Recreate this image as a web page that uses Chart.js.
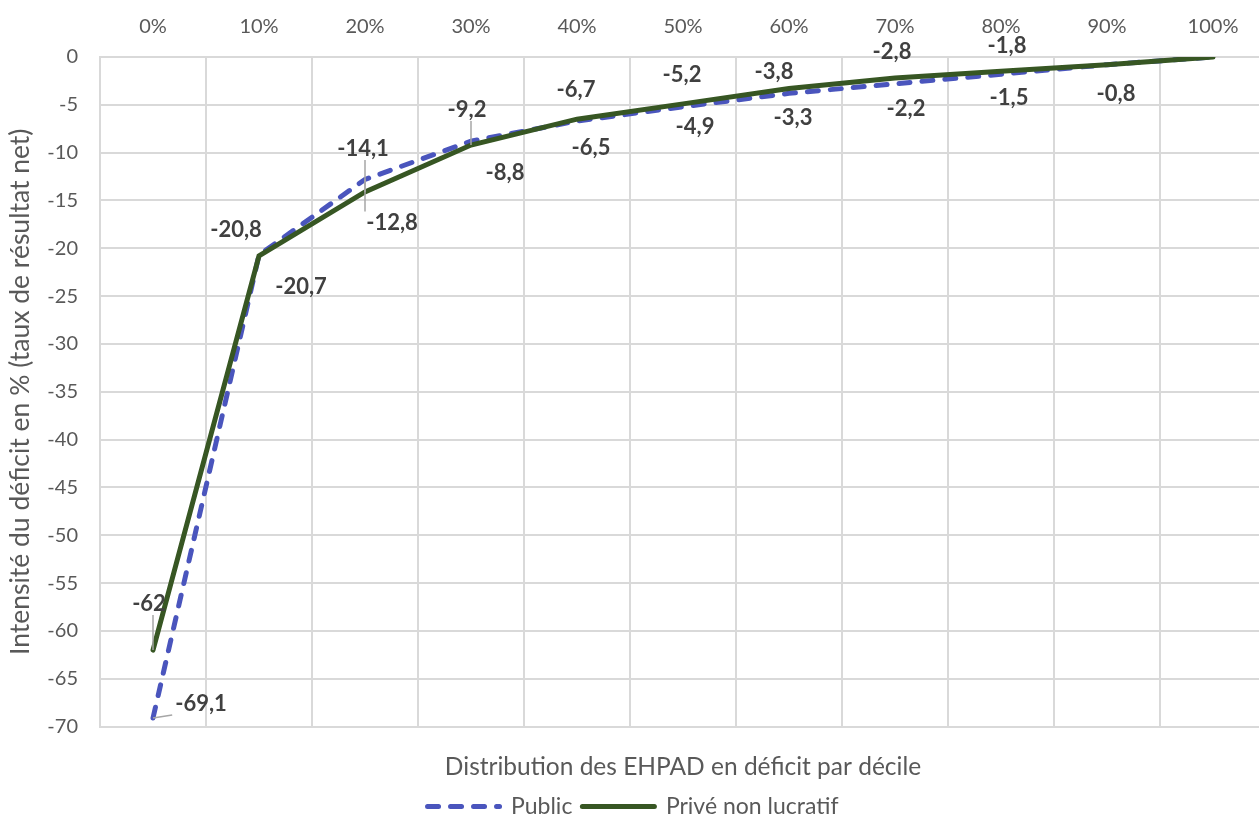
<!DOCTYPE html>
<html lang="fr">
<head>
<meta charset="utf-8">
<title>Intensité du déficit des EHPAD</title>
<script src="https://cdn.jsdelivr.net/npm/chart.js@4.4.1/dist/chart.umd.min.js"></script>
<style>
  html, body { margin: 0; padding: 0; background: #fff; overflow: hidden; }
  #wrap { width: 1267px; height: 820px; position: relative; }
</style>
</head>
<body>
<div id="wrap"><canvas id="chart"></canvas></div>
<script>
const categories = ["0%", "10%", "20%", "30%", "40%", "50%", "60%", "70%", "80%", "90%", "100%"];
const publicValues = [-69.1, -20.7, -12.8, -8.8, -6.7, -5.2, -3.8, -2.8, -1.8, -0.8, 0];
const priveValues = [-62, -20.8, -14.1, -9.2, -6.5, -4.9, -3.3, -2.2, -1.5, -0.8, 0];
const yMin = -70;
const yMax = 0;
const yStep = 5;

// placement des étiquettes (décalage par rapport au point), null = pas d'étiquette
const publicLabelOffsets = [[48, -14], [42, 32], [27, 43], [34, 32], [-1, -31], [-1, -32], [-15, -21], [-3, -32], [6, -28], null, null];
const priveLabelOffsets = [[-4, -46], [-23, -26], [-2, -43], [-4, -35], [14, 29], [12, 23], [4, 29], [11, 31], [8, 27], [9, 29], null];
const publicLeaders = [0, 2];
const priveLeaders = [0, 2, 3];

const FONT = "Lato, 'Open Sans', sans-serif";
const GREY = "#595959";

function formatValue(v) {
  return String(v).replace(".", ",");
}

const dataLabels = {
  id: "dataLabels",
  afterDatasetsDraw(chart) {
    const ctx = chart.ctx;
    const offsets = [publicLabelOffsets, priveLabelOffsets];
    const leaders = [publicLeaders, priveLeaders];
    ctx.save();
    ctx.font = "bold 22px " + FONT;
    ctx.textAlign = "center";
    ctx.textBaseline = "middle";
    chart.data.datasets.forEach((ds, i) => {
      const meta = chart.getDatasetMeta(i);
      meta.data.forEach((pt, j) => {
        const off = offsets[i][j];
        if (!off) return;
        const text = formatValue(ds.data[j]);
        const lx = pt.x + off[0];
        const ly = pt.y + off[1];
        if (leaders[i].includes(j)) {
          const w = ctx.measureText(text).width;
          const left = lx - w / 2 - 3, right = lx + w / 2 + 3;
          const top = ly - 11, bottom = ly + 11;
          const ex = Math.min(Math.max(pt.x, left), right);
          const ey = Math.min(Math.max(pt.y, top), bottom);
          ctx.strokeStyle = "#a6a6a6";
          ctx.lineWidth = 1.5;
          ctx.beginPath();
          ctx.moveTo(pt.x, pt.y);
          ctx.lineTo(ex, ey);
          ctx.stroke();
        }
        ctx.fillStyle = "#404040";
        ctx.fillText(text, lx, ly);
      });
    });
    ctx.restore();
  },
};

Chart.defaults.font.family = FONT;

const ctx = document.getElementById("chart").getContext("2d");
const chart = new Chart(ctx, {
  type: "line",
  data: {
    labels: categories,
    datasets: [
      {
        label: "Public",
        data: publicValues,
        borderColor: "#4a55bd",
        backgroundColor: "#4a55bd",
        borderWidth: 5,
        borderDash: [11, 12],
        borderCapStyle: "round",
        pointRadius: 0,
        tension: 0,
        order: 2,
      },
      {
        label: "Privé non lucratif",
        data: priveValues,
        borderColor: "#375623",
        backgroundColor: "#375623",
        borderWidth: 5,
        borderCapStyle: "round",
        pointRadius: 0,
        tension: 0,
        order: 1,
      },
    ],
  },
  options: {
    responsive: true,
    maintainAspectRatio: false,
    animation: false,
    layout: { padding: { top: 0, right: 1, bottom: -8, left: 0 } },
    plugins: {
      tooltip: { enabled: false },
      title: {
        display: true,
        position: "bottom",
        weight: 500,
        fullSize: false,
        text: "Distribution des EHPAD en déficit par décile",
        color: GREY,
        font: { size: 24.5, weight: "normal", family: FONT },
        padding: { top: 26, bottom: 3 },
      },
      legend: {
        display: true,
        position: "bottom",
        labels: {
          usePointStyle: true,
          pointStyle: "line",
          pointStyleWidth: 72,
          color: GREY,
          font: { size: 23, family: FONT },
          padding: 10,
          sort: (a, b) => a.datasetIndex - b.datasetIndex,
          generateLabels(chart) {
            const items = Chart.defaults.plugins.legend.labels.generateLabels(chart);
            items.forEach((item) => {
              const ds = chart.data.datasets[item.datasetIndex];
              item.lineDash = ds.borderDash || [];
              item.lineCap = "round";
              item.lineWidth = 5;
              item.strokeStyle = ds.borderColor;
            });
            return items;
          },
        },
      },
    },
    scales: {
      x: {
        type: "category",
        position: "top",
        offset: true,
        grid: { offset: true, color: "#d9d9d9", lineWidth: 2, drawTicks: false },
        border: { color: "#d9d9d9", width: 2 },
        ticks: { color: GREY, font: { size: 20 }, padding: 18, maxRotation: 0, autoSkip: false },
        afterFit(scale) {
          scale.height = 57;
        },
      },
      y: {
        min: yMin,
        max: yMax,
        grid: { color: "#d9d9d9", lineWidth: 2, drawTicks: false },
        border: { color: "#d9d9d9", width: 2 },
        ticks: {
          stepSize: yStep,
          color: GREY,
          font: { size: 20 },
          padding: 22,
          callback: (v) => String(v),
        },
        title: {
          display: true,
          text: "Intensité du déficit en % (taux de résultat net)",
          color: GREY,
          font: { size: 26.5, family: FONT },
          padding: { top: 5, bottom: 0 },
        },
        afterFit(scale) {
          scale.width = 100;
        },
      },
    },
  },
  plugins: [dataLabels],
});
</script>
</body>
</html>
